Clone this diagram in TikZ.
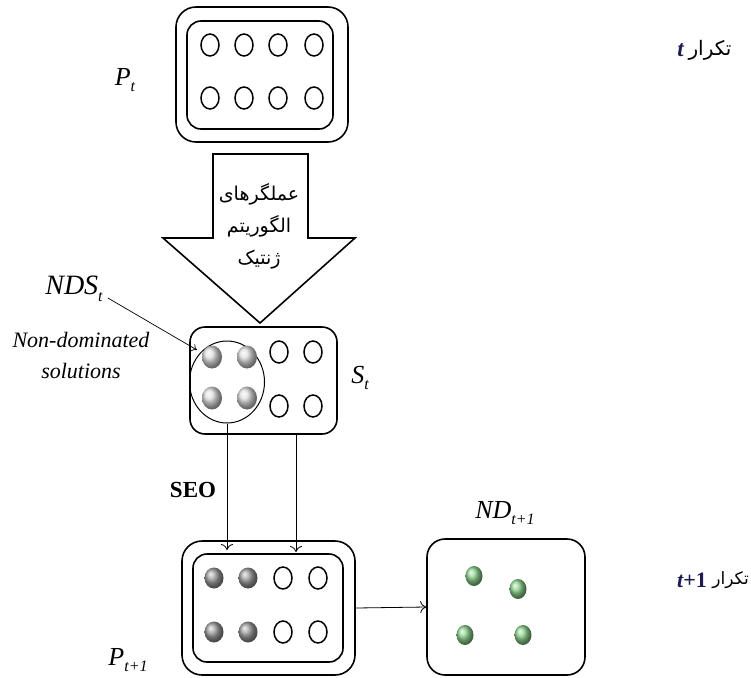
\documentclass[tikz,border=0pt]{standalone}
\usepackage{fontspec}
\setmainfont{Liberation Serif}
\newfontfamily\arabicfont[Script=Arabic]{DejaVu Sans}
\TeXXeTstate=1
\usetikzlibrary{arrows.meta,shapes.geometric}
\definecolor{navy}{HTML}{1C1C50}
\newcommand\lsub[1]{\raisebox{-0.55ex}{\fontsize{16}{16}\selectfont #1}}
\begin{document}
\begin{tikzpicture}[x=1pt,y=-1pt,
  outerbox/.style={draw,line width=1.6pt,rounded corners=20pt,inner sep=0pt},
  innerbox/.style={draw,line width=1.6pt,rounded corners=14pt,inner sep=0pt},
  opencirc/.style={draw,ellipse,line width=1.5pt,minimum width=18pt,minimum height=22pt,inner sep=0pt},
  ballnode/.style={ellipse,minimum width=20pt,minimum height=22pt,inner sep=0pt},
  lbl/.style={font=\fontsize{26}{30}\selectfont\itshape,inner sep=0pt},
  thinarrow/.style={line width=0.8pt,-{To[length=6pt,width=12pt]}},
  rtl/.style={font=\fontsize{20}{22}\selectfont\arabicfont,inner sep=0pt},
  iterlbl/.style={font=\fontsize{23}{23}\selectfont\bfseries,text=navy,inner sep=0pt}]
\useasboundingbox (0,0) rectangle (751,677);

% ---------- P_t ----------
\node[outerbox,minimum width=172pt,minimum height=135pt] (pto) at (262,74.5) {};
\node[innerbox,minimum width=146pt,minimum height=108pt] (pti) at (260,75) {};
\foreach \x [count=\i] in {210,244,278,314}{
  \node[opencirc] (pa\i) at (\x,45) {};
  \node[opencirc] (pb\i) at (\x,98) {};
}
\node[lbl] (ptl) at (125,80) {P\lsub{t}};
\node[rtl] (it1) at (710,50) {\beginR تکرار\endR};
\node[iterlbl,anchor=east] (it1t) at (684,50) {\itshape t};

% ---------- big arrow ----------
\draw[line width=1.6pt,fill=white] (213,154) -- (308,154) -- (308,238) -- (355,238) -- (260,323) -- (163,238) -- (213,238) -- cycle;
\node[align=center,inner sep=0pt,font=\fontsize{19}{32}\selectfont\arabicfont] (gat) at (259,226) {\beginR عملگرهای\endR\\\beginR الگوریتم\endR\\\beginR ژنتیک\endR};

% ---------- S_t ----------
\node[draw,line width=1.6pt,rounded corners=15pt,minimum width=147pt,minimum height=107pt,inner sep=0pt] (st) at (263.5,380.5) {};
\node[draw,ellipse,line width=1pt,minimum width=75pt,minimum height=82pt,inner sep=0pt] (nds) at (227,382) {};
\foreach \x/\y [count=\i] in {212/357,247/357,212/398,247/398}{
  \node[ballnode,ball color=gray!25,minimum height=23pt] (sb\i) at (\x,\y) {};
}
\foreach \x/\y [count=\i] in {279/352,313/352,279/406,313/406}{
  \node[opencirc] (so\i) at (\x,\y) {};
}
\node[lbl] (stl) at (360,378) {S\lsub{t}};
\node[lbl,font=\fontsize{28}{30}\selectfont\itshape] (ndsl) at (74,289) {NDS\lsub{t}};
\coordinate (ndsarrow) at (197,350);
\draw[line width=0.7pt,-{To[length=5pt,width=8pt]}] (ndsl.east) ++(5,9) -- (ndsarrow);
\node[lbl,align=center,font=\fontsize{22}{31}\selectfont\itshape] (ndsol) at (81,355) {Non-dominated\\solutions};

% ---------- P_{t+1} ----------
\node[outerbox,minimum width=173pt,minimum height=134pt] (p1o) at (268.5,608) {};
\node[innerbox,minimum width=150pt,minimum height=108pt] (p1i) at (268,608) {};
\foreach \x/\y [count=\i] in {214/578,248/578,214/632,248/632}{
  \node[ballnode,ball color=gray!75,minimum width=19pt,minimum height=21pt] (pd\i) at (\x,\y) {};
}
\foreach \x/\y [count=\i] in {283/578,318/578,283/632,318/632}{
  \node[opencirc] (po\i) at (\x,\y) {};
}
\node[lbl] (p1l) at (128,660) {P\lsub{t+1}};

\coordinate (seoend) at (227,550);
\coordinate (stend) at (296,552);
\draw[thinarrow] (nds.south) -- (seoend);
\draw[thinarrow] (st.south -| stend) -- (stend);
\node[font=\fontsize{23}{23}\selectfont\bfseries,inner sep=0pt] (seo) at (193,490) {SEO};

% ---------- ND_{t+1} ----------
\node[draw,line width=1.6pt,rounded corners=18pt,minimum width=158pt,minimum height=136pt,inner sep=0pt] (nd) at (506,607) {};
\draw[thinarrow] (p1o.east) -- (nd.west);
\foreach \x/\y [count=\i] in {474/576,518/589,465/635,523/635}{
  \node[ballnode,ball color=green!45!gray!60!white,minimum width=17pt,minimum height=20pt] (gb\i) at (\x,\y) {};
}
\node[lbl] (ndl) at (505,513) {ND\lsub{t+1}};
\node[rtl,font=\fontsize{17}{20}\selectfont\arabicfont,anchor=east] (it2) at (749,580) {\beginR تکرار\endR};
\node[iterlbl,font=\fontsize{22}{22}\selectfont\bfseries,anchor=east] (it2t) at (707,580) {{\itshape t}+1};
\end{tikzpicture}
\end{document}
